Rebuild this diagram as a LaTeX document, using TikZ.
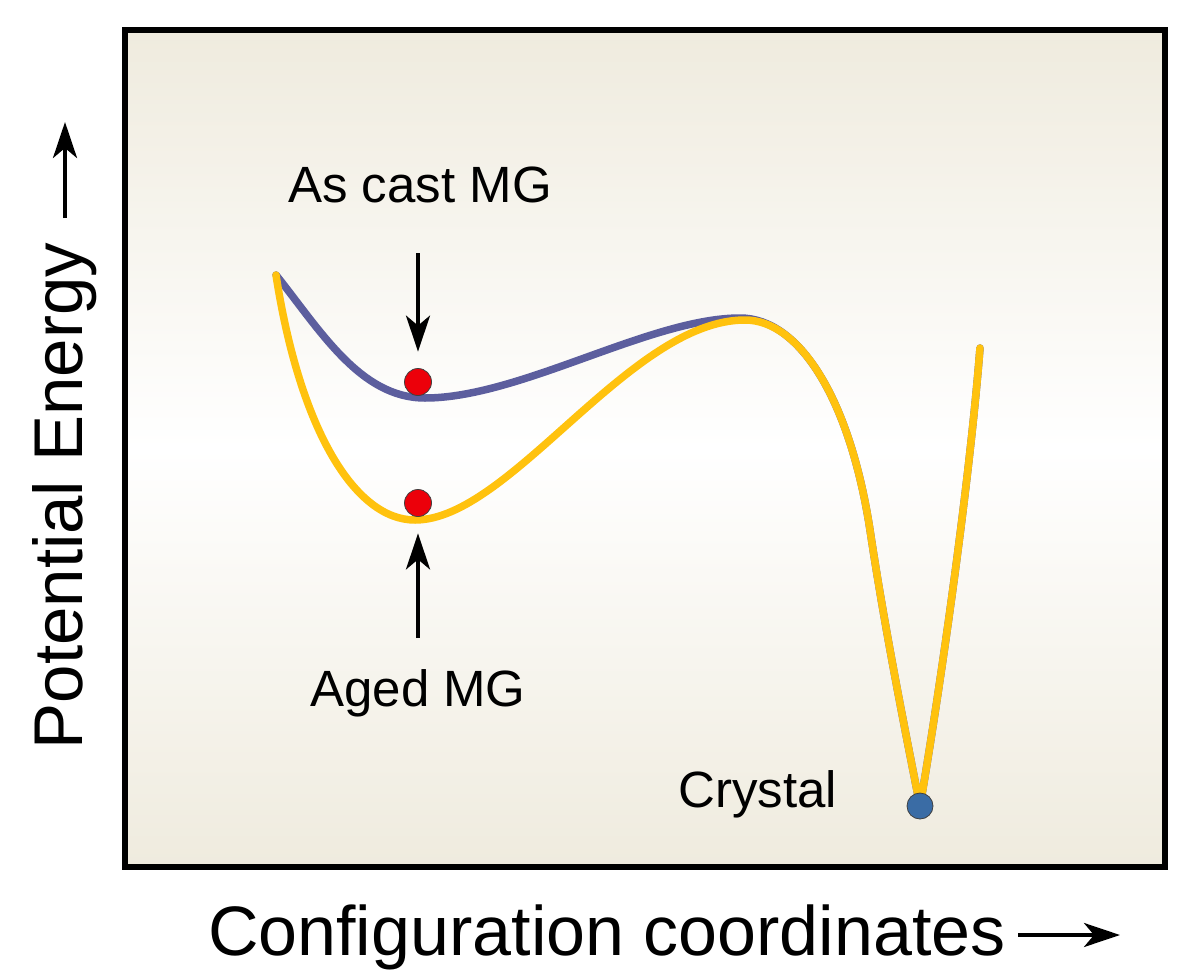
\documentclass[tikz,border=0pt]{standalone}
\usepackage{fontspec}
\setmainfont{Liberation Sans}
\usetikzlibrary{arrows.meta}
\definecolor{bgbeige}{RGB}{239,235,222}
\definecolor{curveblue}{RGB}{92,94,158}
\definecolor{curveyellow}{RGB}{255,194,14}
\definecolor{dotred}{RGB}{236,0,10}
\definecolor{dotblue}{RGB}{58,108,165}
\begin{document}
\begin{tikzpicture}[x=1pt,y=-1pt,
  lbl/.style={font=\fontsize{51}{60}\selectfont, inner sep=0pt},
  axislbl/.style={font=\fontsize{70}{80}\selectfont, inner sep=0pt},
  pointer/.style={line width=4pt, -{Stealth[length=36pt,width=24pt,inset=10pt]}},
  energy/.style={line width=7.5pt, line cap=round, line join=round},
  ball/.style={circle, draw=black!75, line width=0.8pt, minimum size=27pt, inner sep=0pt}]
\useasboundingbox (0,0) rectangle (1200,972);
% framed background
\shade[top color=bgbeige, bottom color=bgbeige, middle color=white] (125,30) rectangle (1165,867);
\draw[line width=5.5pt] (125,30) rectangle (1165,867);
% energy curves
\draw[energy, curveblue] (276,275) .. controls (320,330) and (360,398) .. (425,398)
  .. controls (520,398) and (650,318) .. (740,318)
  .. controls (800,318) and (850,400) .. (870,530)
  .. controls (885,630) and (905,730) .. (920,806)
  .. controls (935,720) and (968,500) .. (980,348);
\draw[energy, curveyellow] (276,275) .. controls (300,430) and (355,520) .. (415,520)
  .. controls (510,520) and (630,320) .. (745,320)
  .. controls (800,320) and (850,400) .. (870,530)
  .. controls (885,630) and (905,730) .. (920,806)
  .. controls (935,720) and (968,500) .. (980,348);
% balls
\node[ball, fill=dotred] (cast) at (418,382) {};
\node[ball, fill=dotred] (aged) at (418,503) {};
\node[ball, fill=dotblue, minimum size=26pt] (crys) at (920,806) {};
% labels
\node[lbl, anchor=base] (castlbl) at (420,202) {As cast MG};
\node[lbl, anchor=base] (agedlbl) at (418,706) {Aged MG};
\node[lbl, anchor=base west] (crystallbl) at (678,807) {Crystal};
% pointers
\coordinate (castfrom) at (418,253);
\coordinate (agedfrom) at (418,638);
\draw[pointer, shorten >=16.5pt] (castfrom) -- (cast);
\draw[pointer, shorten >=16.5pt] (agedfrom) -- (aged);
% axis labels
\node[axislbl, anchor=base] (xlbl) at (607,955) {Configuration coordinates};
\coordinate (xfrom) at (1018,935);
\coordinate (xto) at (1120,935);
\draw[pointer] (xfrom) -- (xto);
\node[axislbl, font=\fontsize{69}{80}\selectfont, rotate=90, anchor=base] (ylbl) at (82,496) {Potential Energy};
\coordinate (yfrom) at (65,218);
\coordinate (yto) at (65,122);
\draw[pointer] (yfrom) -- (yto);
\end{tikzpicture}
\end{document}
